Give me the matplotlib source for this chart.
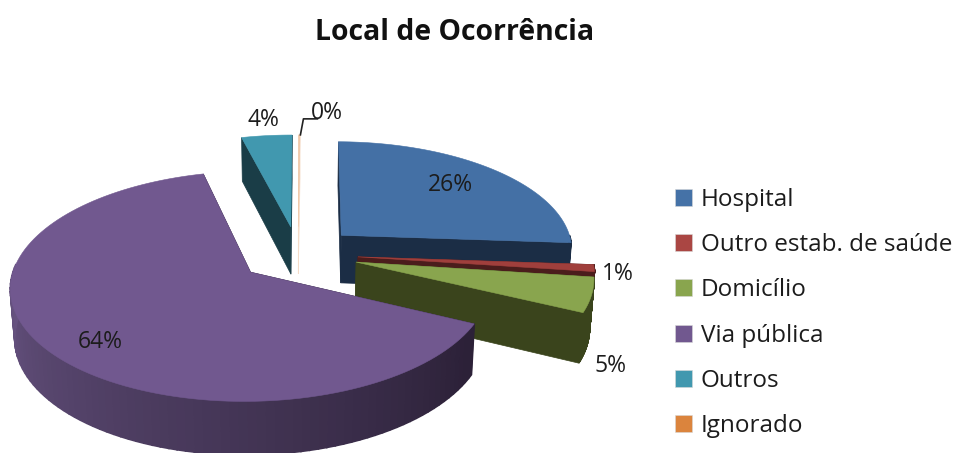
"""Local de Ocorrencia - exploded 3D pie drawn with patches."""

import numpy as np
import matplotlib
matplotlib.use("Agg")
import matplotlib.pyplot as plt
from matplotlib.patches import Patch, Polygon

categories = ["Hospital", "Outro estab. de saúde", "Domicílio", "Via pública", "Outros", "Ignorado"]
values = [26, 1, 5, 64, 4, 0.1]
labels = ["26%", "1%", "5%", "64%", "4%", "0%"]

top_colors = ["#4470a5", "#a03f3c", "#89a54e", "#71588f", "#4198af", "#f0c8a8"]
wall_colors = ["#1b2d45", "#4b1d1c", "#3a441c", "#2c2138", "#1a3d47", "#f5dcc8"]
legend_colors = ["#4572a7", "#aa4643", "#89a54e", "#71588f", "#4198af", "#db843d"]
label_offsets = [(-43, 15), (24, 6), (19, 71), (53, -8), (-3, -16), (27, -22)]
draw_order = [5, 4, 0, 1, 2, 3]

CX, CY = 298, 254
RX, RY = 233, 109
DEPTH = 49
PERSP = 0.12
PERSP_Z = 0.015
EXPLODE = 0.258
START = 0.5
FONT = ["Open Sans", "DejaVu Sans"]
TEXT = "#1c1c1c"


def project(x, y, z=0.0):
    f = 1.0 / (1.0 + PERSP * y + PERSP_Z * z)
    return CX + x * RX * f, CY - y * RY * f + z * DEPTH * f


def rim(mid, theta, r=1.0, z=0.0):
    m, t = np.radians(mid), np.radians(theta)
    x = EXPLODE * np.sin(m) + r * np.sin(t)
    y = EXPLODE * np.cos(m) + r * np.cos(t)
    return project(x, y, z)


def draw_slice(ax, a0, a1, top, wall, gradient=False):
    mid = (a0 + a1) / 2
    thetas = np.linspace(a0, a1, 120)
    apex = rim(mid, 0, r=0)
    apex_low = rim(mid, 0, r=0, z=1)
    # cut walls
    for a in (a0, a1):
        quad = [apex, rim(mid, a), rim(mid, a, z=1), apex_low]
        ax.add_patch(Polygon(quad, fc=wall, ec=wall, lw=0.5))
    # outer wall, only the part that faces the viewer
    vis = thetas[(thetas >= 90) & (thetas <= 275)]
    light = np.array(matplotlib.colors.to_rgb("#675381"))
    dark = np.array(matplotlib.colors.to_rgb(wall))
    for t0, t1 in zip(vis[:-1], vis[1:]):
        color = wall
        if gradient:
            k = np.clip((t0 - 120) / 150, 0, 1)
            color = dark + (light - dark) * k
        quad = [rim(mid, t0), rim(mid, t1), rim(mid, t1, z=1), rim(mid, t0, z=1)]
        ax.add_patch(Polygon(quad, fc=color, ec=color, lw=1.2))
    # top face
    pts = [apex] + [rim(mid, t) for t in thetas]
    ax.add_patch(Polygon(pts, fc=top, ec=top, lw=0.4))


fig = plt.figure(figsize=(9.56, 4.53), dpi=100)
ax = fig.add_axes([0, 0, 1, 1])
ax.set_xlim(0, 956)
ax.set_ylim(453, 0)
ax.axis("off")

shares = np.array(values) / sum(values) * 360
edges = START + np.concatenate([[0], np.cumsum(shares)])

for i in draw_order:
    draw_slice(ax, edges[i], edges[i + 1], top_colors[i], wall_colors[i], gradient=categories[i] == "Via pública")

for i, lab in enumerate(labels):
    mid = (edges[i] + edges[i + 1]) / 2
    px, py = rim(mid, mid)
    ax.text(px + label_offsets[i][0], py + label_offsets[i][1], lab, ha="center", va="center",
            fontsize=16.5, family=FONT, color=TEXT)

# leader line of the 0% label
mid = (edges[5] + edges[6]) / 2
px, py = rim(mid, mid)
ax.plot([px + 18, px + 4, px + 1], [py - 16, py - 16, py], color="#222222", lw=1.2)

ax.text(455, 32, "Local de Ocorrência", ha="center", va="center", fontsize=20.4,
        fontweight="bold", family=FONT, color="#111111")

handles = [Patch(fc=c, ec="#d8d8d8", lw=0.4) for c in legend_colors]
ax.legend(handles, categories, loc="center left", bbox_to_anchor=(0.706, 0.309), frameon=False,
          prop={"family": FONT, "size": 17.5}, labelcolor="#1c1c1c", handlelength=0.7,
          handleheight=0.7, handletextpad=0.37, labelspacing=0.87, borderpad=0, borderaxespad=0)

fig.savefig("out.png", dpi=100)
